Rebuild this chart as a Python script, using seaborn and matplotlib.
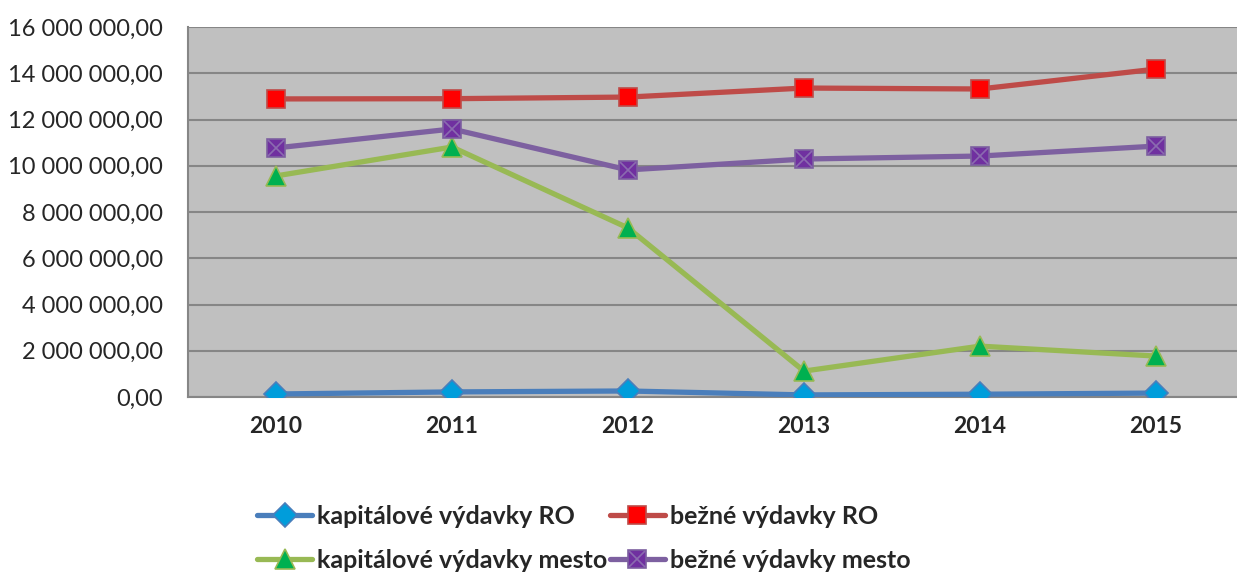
import numpy as np
import pandas as pd
import matplotlib
matplotlib.use("Agg")
import matplotlib.pyplot as plt
import seaborn as sns
from matplotlib.ticker import FuncFormatter, FixedLocator
from matplotlib.legend_handler import HandlerTuple

# data
years = ["2010", "2011", "2012", "2013", "2014", "2015"]
kap_ro = [130000, 220000, 260000, 90000, 120000, 170000]
bez_ro = [12890000, 12900000, 12970000, 13360000, 13320000, 14180000]
kap_mesto = [9560000, 10810000, 7310000, 1120000, 2200000, 1770000]
bez_mesto = [10770000, 11590000, 9820000, 10290000, 10420000, 10850000]
labels = ["kapitálové výdavky RO", "bežné výdavky RO",
          "kapitálové výdavky mesto", "bežné výdavky mesto"]

sns.set_style("white")
plt.rcParams['font.family'] = ['Lato', 'DejaVu Sans']

fig = plt.figure(figsize=(12.37, 5.74), dpi=100)
ax = fig.add_axes([188 / 1237, 1 - 397 / 574, (1244 - 188) / 1237, (397 - 27) / 574])
ax.set_facecolor("#C0C0C0")

# line styles for each series: (values, line colour, marker, face, edge, size)
styles = [
    (kap_ro, "#4A7EBB", "D", "#009DDB", "#4A7EBB", 12),
    (bez_ro, "#BE4B48", "s", "#FF0000", "#BE4B48", 13),
    (kap_mesto, "#98B954", "^", "#00B050", "#98B954", 14),
    (bez_mesto, "#7D60A0", "s", "#7030A0", "#7D60A0", 13),
]

handles = []
for vals, lc, mk, fc, ec, ms in styles:
    df = pd.DataFrame({"year": years, "value": vals})
    sns.lineplot(data=df, x="year", y="value", ax=ax, color=lc, linewidth=3.8,
                 marker=mk, markersize=ms, markerfacecolor=fc, markeredgecolor=ec,
                 markeredgewidth=1.2, zorder=3)
    handles.append(ax.lines[-1])

# the purple squares carry an x inside
df = pd.DataFrame({"year": years, "value": bez_mesto})
sns.lineplot(data=df, x="year", y="value", ax=ax, linestyle="none", marker="x",
             markersize=11, markeredgecolor="#8B6BB0", markeredgewidth=1.2, zorder=4)
handles[3] = (handles[3], ax.lines[-1])

ax.set_xlim(-0.5, 5.5)
ax.set_ylim(0, 16000000)
ax.yaxis.set_major_locator(FixedLocator(np.arange(0, 16000001, 2000000)))
ax.yaxis.set_major_formatter(FuncFormatter(
    lambda v, p: "{:,.2f}".format(v).replace(",", " ").replace(".", ",")))
ax.grid(axis="y", color="#868686", linewidth=1.5)
ax.set_axisbelow(True)

ax.set_xticks(np.arange(-0.5, 6, 1), minor=True)
ax.tick_params(axis="x", which="major", length=0, pad=14, labelsize=16.5)
ax.tick_params(axis="x", which="minor", length=8, width=1.5, color="#868686", direction="out")
ax.tick_params(axis="y", length=8, width=1.5, color="#868686", direction="out",
               labelsize=17, pad=10)
for lab in ax.get_xticklabels():
    lab.set_fontweight("bold")
ax.set_xlabel("")
ax.set_ylabel("")

for side in ["top", "right"]:
    ax.spines[side].set_visible(False)
for side in ["left", "bottom"]:
    ax.spines[side].set_color("#868686")
    ax.spines[side].set_linewidth(1.5)

# matplotlib fills legend columns first, so reorder to get rows like the original
order = [0, 2, 1, 3]
fig.legend([handles[i] for i in order], [labels[i] for i in order],
           loc="center", bbox_to_anchor=(0.472, 0.062),
           ncol=2, frameon=False, handlelength=2.2, handletextpad=0.2,
           columnspacing=0.1, labelspacing=0.82,
           prop={"weight": "bold", "size": 18},
           handler_map={tuple: HandlerTuple(ndivide=1, pad=0)})

fig.savefig("out.png", dpi=100)
